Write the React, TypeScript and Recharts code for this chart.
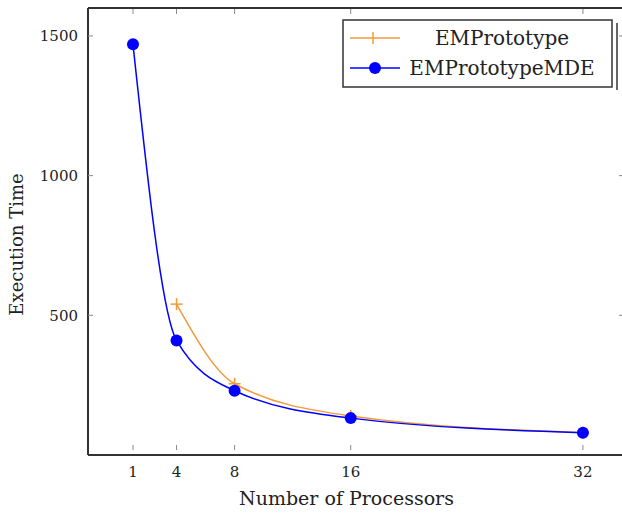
import { Line, LineChart, XAxis, YAxis } from 'recharts'

const processors = [1, 4, 8, 16, 32]
const emPrototype = [null, 540, 255, 140, 80]
const emPrototypeMDE = [1470, 410, 230, 132, 80]
const yTicks = [500, 1000, 1500]

const data = processors.map((p, i) => ({
    p,
    emPrototype: emPrototype[i],
    emPrototypeMDE: emPrototypeMDE[i],
}))

const ORANGE = '#f39a3c'
const BLUE = '#0000ff'
const FRAME = '#333333'
const TICK = '#888888'
const FONT = '"DejaVu Serif", serif'
const X_DOMAIN = [-2.1, 34.9]

const PlusDot = (props: any) => {
    const { cx, cy } = props
    if (cx == null || cy == null) return <g />
    return (
        <g stroke={ORANGE} strokeWidth={1.5}>
            <line x1={cx - 6} x2={cx + 6} y1={cy} y2={cy} />
            <line x1={cx} x2={cx} y1={cy - 6} y2={cy + 6} />
        </g>
    )
}

// tick marks point into the plot, labels stay outside
const BottomTick = (props: any) => {
    const { x, y, payload } = props
    return (
        <g>
            <line x1={x} x2={x} y1={y - 16} y2={y - 21} stroke={TICK} />
            <text x={x} y={y} dy="0.71em" textAnchor="middle" fontSize={15} fill="#222">{payload.value}</text>
        </g>
    )
}

const TopTick = (props: any) => {
    const { x, y } = props
    return <line x1={x} x2={x} y1={y + 1} y2={y + 6} stroke={TICK} />
}

const LeftTick = (props: any) => {
    const { x, y, payload } = props
    return (
        <g>
            <line x1={x + 10} x2={x + 15} y1={y} y2={y} stroke={TICK} />
            <text x={x} y={y} dy="0.355em" textAnchor="end" fontSize={15} fill="#222">{payload.value}</text>
        </g>
    )
}

const RightTick = (props: any) => {
    const { x, y } = props
    return <line x1={x - 1} x2={x - 6} y1={y} y2={y} stroke={TICK} />
}

const LegendBox = () => (
    <svg width={280} height={74} style={{ position: 'absolute', left: 342, top: 19 }}>
        <rect x={1} y={1} width={269} height={67} fill="#fff" stroke={FRAME} strokeWidth={1.5} />
        <line x1={275} x2={275} y1={4} y2={71} stroke={FRAME} strokeWidth={1.5} />
        <line x1={8} x2={58} y1={19} y2={19} stroke={ORANGE} strokeWidth={1.5} />
        <line x1={31} x2={31} y1={13} y2={25} stroke={ORANGE} strokeWidth={1.5} />
        <text x={160} y={26} textAnchor="middle" fontFamily={FONT} fontSize={20} fill="#222">EMPrototype</text>
        <line x1={8} x2={58} y1={49} y2={49} stroke={BLUE} strokeWidth={1.5} />
        <circle cx={33} cy={49} r={6} fill={BLUE} />
        <text x={160} y={56} textAnchor="middle" fontFamily={FONT} fontSize={20} fill="#222">EMPrototypeMDE</text>
    </svg>
)

export default function App() {
    return (
        <div style={{ position: 'absolute', left: 0, top: 0, width: 622, height: 515, overflow: 'hidden' }}>
            <LineChart
                width={626}
                height={515}
                data={data}
                margin={{ top: 7, right: 0, left: 0, bottom: 0 }}
                style={{ fontFamily: FONT }}
            >
                <XAxis
                    dataKey="p"
                    type="number"
                    domain={X_DOMAIN}
                    ticks={processors}
                    allowDataOverflow
                    height={60}
                    tickSize={0}
                    tickMargin={11}
                    axisLine={{ stroke: FRAME, strokeWidth: 2 }}
                    tickLine={false}
                    tick={<BottomTick />}
                    label={{ value: 'Number of Processors', position: 'insideBottom', offset: 10, dx: -10, fill: '#222', fontSize: 19 }}
                />
                <XAxis
                    xAxisId="top"
                    orientation="top"
                    dataKey="p"
                    type="number"
                    domain={X_DOMAIN}
                    ticks={processors}
                    allowDataOverflow
                    height={1}
                    tickSize={0}
                    tickMargin={0}
                    axisLine={{ stroke: FRAME, strokeWidth: 2 }}
                    tickLine={false}
                    tick={<TopTick />}
                />
                <YAxis
                    type="number"
                    domain={[0, 1600]}
                    ticks={yTicks}
                    allowDataOverflow
                    width={88}
                    tickSize={0}
                    tickMargin={10}
                    axisLine={{ stroke: FRAME, strokeWidth: 2 }}
                    tickLine={false}
                    tick={<LeftTick />}
                    label={{ value: 'Execution Time', angle: -90, position: 'insideLeft', offset: 17, dy: 13, fill: '#222', fontSize: 18, style: { textAnchor: 'middle' } }}
                />
                <YAxis
                    yAxisId="right"
                    orientation="right"
                    type="number"
                    domain={[0, 1600]}
                    ticks={yTicks}
                    allowDataOverflow
                    width={1}
                    tickSize={0}
                    tickMargin={0}
                    axisLine={{ stroke: FRAME, strokeWidth: 2 }}
                    tickLine={false}
                    tick={<RightTick />}
                />
                <Line
                    type="monotoneX"
                    dataKey="emPrototype"
                    stroke={ORANGE}
                    strokeWidth={1.5}
                    dot={<PlusDot />}
                    activeDot={false}
                    isAnimationActive={false}
                />
                <Line
                    type="monotoneX"
                    dataKey="emPrototypeMDE"
                    stroke={BLUE}
                    strokeWidth={1.5}
                    dot={{ r: 6, fill: BLUE, stroke: BLUE, strokeWidth: 0 }}
                    activeDot={false}
                    isAnimationActive={false}
                />
            </LineChart>
            <LegendBox />
        </div>
    )
}
